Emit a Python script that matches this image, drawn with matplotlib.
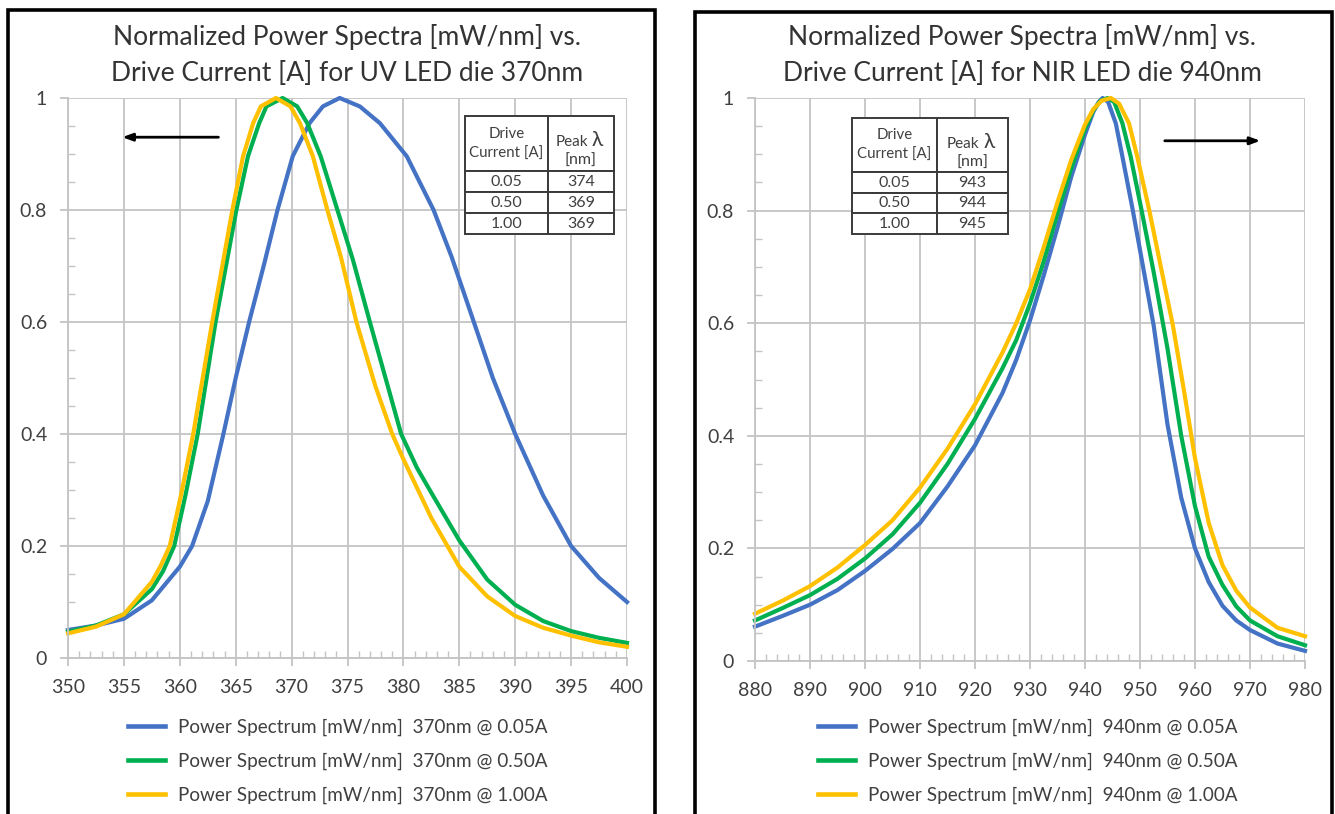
import matplotlib
matplotlib.use("Agg")
import matplotlib.pyplot as plt
from matplotlib.ticker import MultipleLocator, FixedLocator, FixedFormatter
from matplotlib.patches import Rectangle

plt.rcParams['font.family'] = ['Lato', 'DejaVu Sans']

# ---------------- Data: UV LED 370 nm ----------------
uv_x_005 = [350, 352.5, 355, 357.5, 360, 361.1, 362.5, 363.9, 365, 366.2, 367.5, 368.74, 370.1, 371.6, 372.8, 374.3,
            376.1, 377.9, 380.3, 382.7, 384.3, 386.3, 388, 390, 392.5, 395, 397.5, 400]
uv_y_005 = [0.050, 0.058, 0.070, 0.103, 0.163, 0.20, 0.28, 0.40, 0.50, 0.60, 0.70, 0.80, 0.896, 0.955, 0.985, 1.0,
            0.985, 0.955, 0.896, 0.80, 0.717, 0.60, 0.50, 0.40, 0.29, 0.20, 0.143, 0.10]

uv_x_050 = [350, 352.5, 355, 357.5, 358.5, 359.5, 360.5, 361.6, 363.2, 365.06, 366.1, 367.1, 367.75, 369.2,
            370.5, 371.4, 372.6, 374.1, 375.5, 377.0, 378.4, 379.8, 381.2, 382.5, 385, 387.5, 390, 392.5, 395, 397.5, 400]
uv_y_050 = [0.047, 0.058, 0.078, 0.123, 0.155, 0.20, 0.29, 0.40, 0.60, 0.80, 0.896, 0.955, 0.985, 1.0,
            0.985, 0.955, 0.896, 0.80, 0.71, 0.60, 0.50, 0.40, 0.34, 0.295, 0.21, 0.14, 0.095, 0.066, 0.048, 0.036, 0.027]

uv_x_100 = [350, 352.5, 355, 357.5, 358.3, 359.1, 360.1, 361.2, 362.9, 364.7, 365.66, 366.56, 367.25, 368.6,
            369.9, 370.75, 371.9, 373.2, 374.4, 375.8, 377.5, 379.0, 380, 382.5, 385, 387.5, 390, 392.5, 395, 397.5, 400]
uv_y_100 = [0.044, 0.056, 0.078, 0.136, 0.165, 0.20, 0.29, 0.40, 0.60, 0.80, 0.896, 0.955, 0.985, 1.0,
            0.985, 0.955, 0.896, 0.80, 0.717, 0.60, 0.485, 0.40, 0.355, 0.25, 0.163, 0.11, 0.075, 0.054, 0.040, 0.028, 0.020]

# ---------------- Data: NIR LED 940 nm ----------------
nir_x_005 = [880, 885, 890, 895, 900, 905, 910, 915, 920, 925, 927.5, 930, 932.5, 935, 937.5, 940, 941.5, 942.5, 943.2,
             944.2, 945.6, 946.8, 948.7, 950, 952.5, 955, 957.5, 960, 962.5, 965, 967.5, 970, 975, 980]
nir_y_005 = [0.061, 0.080, 0.10, 0.126, 0.16, 0.199, 0.245, 0.31, 0.383, 0.476, 0.535, 0.605, 0.685, 0.77, 0.86, 0.935, 0.975, 0.993, 1.0,
             0.993, 0.955, 0.896, 0.80, 0.73, 0.595, 0.42, 0.29, 0.20, 0.14, 0.098, 0.072, 0.055, 0.031, 0.018]

nir_x_050 = [880, 885, 890, 895, 900, 905, 910, 915, 920, 925, 927.5, 930, 932.5, 935, 937.5, 940, 941.5, 942.8, 944.1,
             945.3, 946.8, 948.3, 950.3, 952.5, 955, 957.5, 960, 962.5, 965, 967.5, 970, 975, 980]
nir_y_050 = [0.072, 0.094, 0.117, 0.146, 0.182, 0.225, 0.281, 0.35, 0.43, 0.52, 0.57, 0.635, 0.71, 0.795, 0.875, 0.945, 0.978, 0.995, 1.0,
             0.993, 0.955, 0.896, 0.80, 0.69, 0.555, 0.40, 0.275, 0.185, 0.135, 0.097, 0.072, 0.044, 0.028]

nir_x_100 = [880, 885, 890, 895, 900, 905, 910, 915, 920, 925, 927.5, 930, 932.5, 935, 937.5, 940, 941.5, 943, 944.7,
             946.2, 948, 949.5, 951.7, 954, 956, 958, 960, 962.5, 965, 967.5, 970, 975, 980]
nir_y_100 = [0.084, 0.107, 0.133, 0.166, 0.206, 0.25, 0.308, 0.377, 0.456, 0.548, 0.60, 0.66, 0.735, 0.815, 0.89, 0.953, 0.98, 0.995, 1.0,
             0.99, 0.955, 0.896, 0.80, 0.69, 0.595, 0.48, 0.36, 0.245, 0.17, 0.125, 0.095, 0.059, 0.044]

uv_labels = ["Power Spectrum [mW/nm]  370nm @ 0.05A",
             "Power Spectrum [mW/nm]  370nm @ 0.50A",
             "Power Spectrum [mW/nm]  370nm @ 1.00A"]
nir_labels = ["Power Spectrum [mW/nm]  940nm @ 0.05A",
              "Power Spectrum [mW/nm]  940nm @ 0.50A",
              "Power Spectrum [mW/nm]  940nm @ 1.00A"]

uv_table = [["Drive\nCurrent [A]", ""], ["0.05", "374"], ["0.50", "369"], ["1.00", "369"]]
nir_table = [["Drive\nCurrent [A]", ""], ["0.05", "943"], ["0.50", "944"], ["1.00", "945"]]
peak_word = "Peak"
peak_symbol = "λ"
peak_unit = "[nm]"

uv_xticks = [350, 355, 360, 365, 370, 375, 380, 385, 390, 395, 400]
nir_xticks = [880, 890, 900, 910, 920, 930, 940, 950, 960, 970, 980]
yticks = [0, 0.2, 0.4, 0.6, 0.8, 1.0]
ytick_labels = ["0", "0.2", "0.4", "0.6", "0.8", "1"]

uv_title = "Normalized Power Spectra [mW/nm] vs.\nDrive Current [A] for UV LED die 370nm"
nir_title = "Normalized Power Spectra [mW/nm] vs.\nDrive Current [A] for NIR LED die 940nm"

colors = ["#4472C4", "#00B050", "#FFC000"]
GRID = "#C4C4C4"
TXT = "#404040"

W, H = 1335, 814
fig = plt.figure(figsize=(W / 100, H / 100), dpi=100)


def fx(px):
    return px / W


def fy(py):
    return 1 - py / H


# panel borders
for (x0, x1, ytop) in [(8, 655, 9.5), (695, 1332, 12)]:
    fig.patches.append(Rectangle((fx(x0), -0.05), fx(x1) - fx(x0), fy(ytop) + 0.05,
                                 transform=fig.transFigure, fill=False, edgecolor='black',
                                 linewidth=2.6, zorder=0))

ax1 = fig.add_axes([fx(68), fy(658), fx(627) - fx(68), fy(98) - fy(658)])
ax2 = fig.add_axes([fx(755), fy(661), fx(1305) - fx(755), fy(98) - fy(661)])


def style(ax, xticks, xminor, xlim):
    ax.set_xlim(*xlim)
    ax.set_ylim(0, 1)
    ax.xaxis.set_major_locator(FixedLocator(xticks))
    ax.xaxis.set_minor_locator(MultipleLocator(xminor))
    ax.yaxis.set_major_locator(FixedLocator(yticks))
    ax.yaxis.set_major_formatter(FixedFormatter(ytick_labels))
    ax.yaxis.set_minor_locator(MultipleLocator(0.05))
    ax.grid(True, which='major', color=GRID, linewidth=1.3)
    ax.set_axisbelow(True)
    for s in ['top', 'right']:
        ax.spines[s].set_visible(False)
    for s in ['left', 'bottom']:
        ax.spines[s].set_color(GRID)
        ax.spines[s].set_linewidth(1.3)
    ax.tick_params(which='major', direction='out', length=6, width=1.3, color=GRID,
                   labelsize=14, labelcolor=TXT)
    ax.tick_params(which='minor', direction='in', length=5, width=1.0, color=GRID)
    ax.tick_params(axis='x', which='major', pad=9)
    ax.tick_params(axis='y', which='major', pad=9)
    ax.patch.set_alpha(0)


style(ax1, uv_xticks, 1, (350, 400))
style(ax2, nir_xticks, 2, (880, 980))

for xs, ys, c, lab in zip([uv_x_005, uv_x_050, uv_x_100], [uv_y_005, uv_y_050, uv_y_100], colors, uv_labels):
    ax1.plot(xs, ys, color=c, linewidth=3, label=lab, solid_joinstyle='round', clip_on=False)
for xs, ys, c, lab in zip([nir_x_005, nir_x_050, nir_x_100], [nir_y_005, nir_y_050, nir_y_100], colors, nir_labels):
    ax2.plot(xs, ys, color=c, linewidth=3, label=lab, solid_joinstyle='round', clip_on=False)

# titles
ax1.text(0.499, 1.0 + (98 - 55) / 560, uv_title, transform=ax1.transAxes, ha='center', va='center',
         fontsize=19, color='#333333', linespacing=1.55)
ax2.text(0.4855, 1.0 + (98 - 55) / 563, nir_title, transform=ax2.transAxes, ha='center', va='center',
         fontsize=19, color='#333333', linespacing=1.55)

# arrows
ax1.annotate("", xy=(354.6, 0.930), xytext=(363.7, 0.930),
             arrowprops=dict(arrowstyle='-|>,head_length=0.6,head_width=0.22', color='black', lw=2))
ax2.annotate("", xy=(972.4, 0.924), xytext=(954.0, 0.924),
             arrowprops=dict(arrowstyle='-|>,head_length=0.6,head_width=0.22', color='black', lw=2))


def add_table(ax, data, left, right, top, bottom, split):
    pos = ax.get_position()
    ax_x0, ax_w = pos.x0 * W, pos.width * W
    ax_y1, ax_h = (1 - pos.y1) * H, pos.height * H

    def tx(px):
        return (px - ax_x0) / ax_w

    def ty(py):
        return (ax_y1 + ax_h - py) / ax_h

    bbox = [tx(left), ty(bottom), tx(right) - tx(left), ty(top) - ty(bottom)]
    tb = ax.table(cellText=data, cellLoc='center', bbox=bbox, zorder=10)
    tb.auto_set_font_size(False)
    colw = [split - left, right - split]
    for (r, c), cell in tb.get_celld().items():
        cell.set_linewidth(1.4)
        cell.set_edgecolor('#3A3A3A')
        cell.set_facecolor('white')
        cell.set_height(2.65 if r == 0 else 1.0)
        cell.set_width(colw[c])
        cell.get_text().set_color(TXT)
        cell.get_text().set_fontsize(11.5 if r > 0 else 10.8)
        if r == 0:
            cell.get_text().set_linespacing(1.5)
    cx = (split + right) / 2
    ax.text(tx(cx + 7), ty(top + 26), peak_word, transform=ax.transAxes, ha='right', va='center',
            fontsize=11, color=TXT, zorder=12)
    ax.text(tx(cx + 11), ty(top + 24), peak_symbol, transform=ax.transAxes, ha='left', va='center',
            fontsize=15, color=TXT, zorder=12)
    ax.text(tx(cx), ty(top + 45), peak_unit, transform=ax.transAxes, ha='center', va='center',
            fontsize=11.5, color=TXT, zorder=12)
    return tb


add_table(ax1, uv_table, 465, 614, 116, 234, 548)
add_table(ax2, nir_table, 852, 1008, 118, 234, 937)

# legends
for ax, hx, top, ay0, ah in [(ax1, 128, 719, 658, 560), (ax2, 818, 719, 661, 563)]:
    x0 = ax.get_position().x0 * W
    aw = ax.get_position().width * W
    leg = ax.legend(loc='upper left', bbox_to_anchor=((hx - x0) / aw, (ay0 - top) / ah),
                    frameon=False, fontsize=13.6, handlelength=1.95, handletextpad=0.69,
                    labelspacing=0.88, borderpad=0, borderaxespad=0)
    for t in leg.get_texts():
        t.set_color(TXT)
    for l in leg.get_lines():
        l.set_linewidth(3.3)

fig.savefig("out.png", dpi=100)
